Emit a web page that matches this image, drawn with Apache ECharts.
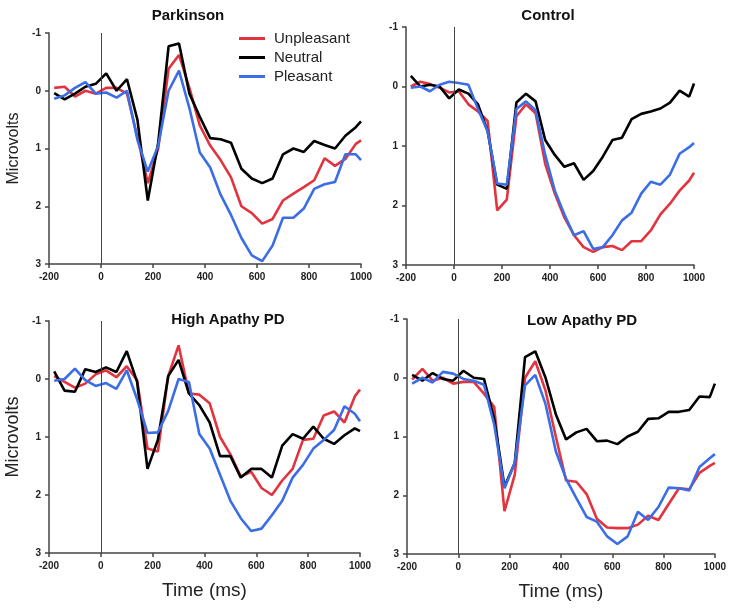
<!DOCTYPE html>
<html>
<head>
<meta charset="utf-8">
<script src="https://cdn.jsdelivr.net/npm/echarts@6/dist/echarts.min.js"></script>
<style>html,body{margin:0;padding:0;background:#fff;}#c{width:729px;height:611px;}</style>
</head>
<body>
<div id="c"></div>
<script>
const times = [-180,-140,-100,-60,-20,20,60,100,140,180,220,260,300,340,380,420,460,500,540,580,620,660,700,740,780,820,860,900,940,980,1000];
const xTicks = [-200,0,200,400,600,800,1000];
const yTicks = [-1,0,1,2,3];
const panelTitles = ['Parkinson','Control','High Apathy PD','Low Apathy PD'];
const seriesNames = ['Unpleasant','Neutral','Pleasant'];

// Parkinson
const parkUnpleasant = [-0.05,-0.07,0.1,0.0,0.05,-0.05,-0.05,0.05,0.8,1.6,1.0,-0.38,-0.62,-0.05,0.6,0.95,1.2,1.5,2.0,2.12,2.3,2.22,1.9,1.78,1.67,1.55,1.17,1.3,1.18,0.92,0.86];
const parkNeutral = [0.04,0.15,0.05,-0.07,-0.12,-0.3,0.0,-0.2,0.5,1.9,0.9,-0.77,-0.82,0.05,0.45,0.82,0.84,0.9,1.35,1.52,1.6,1.52,1.1,1.0,1.06,0.87,0.94,1.0,0.78,0.63,0.53];
const parkPleasant = [0.14,0.08,-0.05,-0.15,0.05,0.03,0.12,0.0,0.85,1.4,0.95,0.0,-0.35,0.3,1.07,1.33,1.8,2.15,2.55,2.85,2.95,2.68,2.2,2.2,2.04,1.7,1.62,1.58,1.1,1.1,1.2];
// Control
const ctrlUnpleasant = [0.0,-0.08,-0.04,0.02,0.1,0.08,0.3,0.42,0.58,2.08,1.9,0.5,0.3,0.45,1.3,1.8,2.2,2.5,2.7,2.78,2.7,2.68,2.75,2.6,2.6,2.42,2.15,1.97,1.75,1.58,1.45];
const ctrlNeutral = [-0.18,0.0,-0.03,0.0,0.2,0.05,0.12,0.3,0.75,1.65,1.72,0.27,0.12,0.25,0.9,1.15,1.35,1.29,1.57,1.42,1.18,0.9,0.86,0.55,0.46,0.42,0.37,0.27,0.07,0.17,-0.05];
const ctrlPleasant = [0.02,0.0,0.08,-0.03,-0.08,-0.06,-0.03,0.38,0.75,1.63,1.65,0.38,0.25,0.4,1.15,1.75,2.15,2.5,2.43,2.73,2.7,2.5,2.25,2.12,1.8,1.6,1.65,1.48,1.13,1.02,0.95];
// High Apathy PD
const highUnpleasant = [-0.05,0.05,0.15,0.08,-0.08,-0.15,-0.03,-0.22,0.02,1.2,1.25,-0.05,-0.58,0.25,0.27,0.42,1.0,1.3,1.68,1.6,1.88,2.0,1.75,1.55,1.05,1.03,0.63,0.56,0.75,0.3,0.18];
const highNeutral = [-0.13,0.2,0.22,-0.17,-0.12,-0.2,-0.12,-0.48,0.05,1.55,1.05,-0.05,-0.33,0.25,0.45,0.75,1.33,1.33,1.7,1.55,1.55,1.7,1.15,0.95,1.03,0.82,1.03,1.12,0.97,0.85,0.9];
const highPleasant = [0.03,0.0,-0.18,0.02,0.12,0.07,0.17,-0.15,0.35,0.93,0.92,0.55,0.0,0.05,0.95,1.2,1.65,2.1,2.4,2.62,2.58,2.35,2.1,1.7,1.48,1.2,1.05,0.88,0.47,0.6,0.73];
// Low Apathy PD
const lowUnpleasant = [0.03,-0.15,0.05,0.0,0.1,0.07,0.07,0.27,0.5,2.27,1.65,0.0,-0.28,0.22,1.0,1.75,1.77,1.98,2.4,2.55,2.56,2.56,2.5,2.35,2.42,2.15,1.88,1.9,1.62,1.5,1.45];
const lowNeutral = [-0.05,0.05,-0.08,0.02,0.05,-0.12,0.0,0.02,0.7,1.85,1.45,-0.35,-0.45,0.0,0.62,1.05,0.93,0.87,1.08,1.07,1.13,1.0,0.92,0.7,0.69,0.58,0.58,0.55,0.32,0.33,0.1];
const lowPleasant = [0.1,0.0,0.08,-0.1,-0.07,0.02,0.05,0.12,0.8,1.88,1.45,0.13,-0.05,0.45,1.25,1.72,2.05,2.37,2.45,2.7,2.83,2.7,2.28,2.42,2.2,1.87,1.88,1.92,1.52,1.37,1.3];

const panelData = [
  [parkUnpleasant, parkNeutral, parkPleasant],
  [ctrlUnpleasant, ctrlNeutral, ctrlPleasant],
  [highUnpleasant, highNeutral, highPleasant],
  [lowUnpleasant, lowNeutral, lowPleasant]
];
const colors = ['#e2333f', '#000000', '#3b6ee6'];

const grids = [
  {left: 49, top: 33, width: 312, height: 231},
  {left: 406, top: 27, width: 288, height: 238},
  {left: 49, top: 321, width: 311, height: 232},
  {left: 407, top: 319, width: 313, height: 235}
];
const titlePos = [[183, 3], [543, 3], [223, 307], [577, 308]];
const font = 'Liberation Sans, Arial, sans-serif';

const xAxes = [], yAxes = [], series = [], titles = [];
grids.forEach((g, i) => {
  titles.push({
    text: panelTitles[i], left: titlePos[i][0], top: titlePos[i][1], textAlign: 'center',
    textStyle: {fontFamily: font, fontWeight: 'bold', fontSize: 15, color: '#111'}
  });
  xAxes.push({
    type: 'value', gridIndex: i, min: -200, max: 1000, interval: 200,
    name: i >= 2 ? 'Time (ms)' : '', nameLocation: 'middle', nameGap: 28,
    nameTextStyle: {fontFamily: font, fontSize: 19, color: '#222'},
    axisLine: {show: true, onZero: false, lineStyle: {color: '#444', width: 1.5}},
    axisTick: {show: true, length: 4, lineStyle: {color: '#444', width: 1.5}},
    axisLabel: {fontFamily: font, fontWeight: 'bold', fontSize: 10, color: '#222', margin: 8,
      formatter: v => xTicks.includes(v) ? String(v) : ''},
    splitLine: {show: false}
  });
  yAxes.push({
    type: 'value', gridIndex: i, min: -1, max: 3, interval: 1, inverse: true,
    name: (i % 2 === 0) ? 'Microvolts' : '', nameLocation: 'middle', nameGap: 27, nameRotate: 90,
    nameTextStyle: {fontFamily: font, fontSize: i === 0 ? 16 : 18, color: '#222'},
    axisLine: {show: true, onZero: false, lineStyle: {color: '#444', width: 1.5}},
    axisTick: {show: true, length: 4, lineStyle: {color: '#444', width: 1.5}},
    axisLabel: {fontFamily: font, fontWeight: 'bold', fontSize: 10, color: '#222', margin: 8,
      formatter: v => yTicks.includes(v) ? String(v) : ''},
    splitLine: {show: false}
  });
  panelData[i].forEach((vals, k) => {
    const s = {
      name: seriesNames[k], type: 'line', xAxisIndex: i, yAxisIndex: i,
      data: times.map((t, j) => [t, vals[j]]),
      showSymbol: false, symbol: 'none', z: 3,
      lineStyle: {color: colors[k], width: 2.6}, itemStyle: {color: colors[k]},
      animation: false
    };
    if (k === 0) {
      s.markLine = {
        silent: true, symbol: 'none', animation: false,
        label: {show: false},
        lineStyle: {color: '#444', width: 1, type: 'solid'},
        data: [[{coord: [0, -1]}, {coord: [0, 3]}]]
      };
    }
    series.push(s);
  });
});

const chart = echarts.init(document.getElementById('c'));
chart.setOption({
  animation: false,
  backgroundColor: '#fff',
  title: titles,
  legend: {
    data: seriesNames, orient: 'vertical', left: 234, top: 26,
    icon: 'rect', itemWidth: 26, itemHeight: 3, itemGap: 4,
    textStyle: {fontFamily: font, fontSize: 15, color: '#222', padding: [0, 0, 0, 4]}
  },
  grid: grids.map(g => Object.assign({containLabel: false}, g)),
  xAxis: xAxes,
  yAxis: yAxes,
  series: series
});
</script>
</body>
</html>
